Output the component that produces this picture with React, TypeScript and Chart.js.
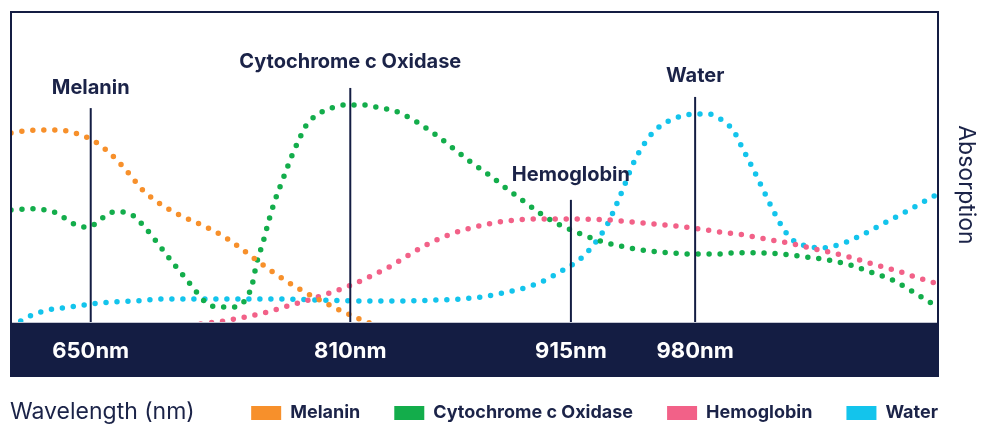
import React, { useEffect, useRef } from "react";
import { Chart, registerables } from "chart.js";

Chart.register(...registerables);

// ---- Data (x = relative position along the wavelength axis, 0–100; y = relative absorption, 0–100)
const seriesNames = ["Melanin", "Cytochrome c Oxidase", "Hemoglobin", "Water"];
const seriesColors = ["#F7902B", "#13AD4B", "#F26188", "#13C4EC"];

const melaninX = [0, 2.5, 5.0, 7.3, 9.3, 11.0, 12.5, 14.2, 16.3, 18.4, 20.8, 22.9, 24.9, 26.9, 28.7, 30.9, 33.1, 35.4, 37.6, 39.8];
const melaninY = [61.0, 61.9, 61.9, 60.6, 57.7, 53.5, 48.7, 42.6, 37.7, 34.2, 31.0, 27.7, 23.5, 19.0, 15.2, 11.0, 7.4, 3.9, 1.0, -1.6];

const cytoX = [0, 2.5, 3.7, 4.9, 5.8, 7.0, 8.3, 9.5, 10.6, 11.8, 13.1, 14.3, 15.8, 17.3, 18.8, 20.2, 21.1, 22.4, 23.8, 25.2, 26.0, 26.5, 27.2, 27.8, 28.5, 29.3, 30.2, 31.0, 32.0, 32.9, 33.9, 35.0, 36.0, 37.1, 38.2, 39.3, 40.5, 41.4, 42.6, 43.8, 44.9, 46.0, 47.8, 49.6, 51.6, 53.4, 55.1, 57.2, 59.2, 61.5, 63.9, 66.2, 68.8, 71.2, 73.5, 75.9, 78.3, 80.8, 83.1, 85.7, 88.1, 90.5, 93.0, 95.1, 97.0, 98.9, 100];
const cytoY = [36.1, 36.5, 36.1, 35.2, 33.5, 31.3, 30.6, 32.6, 35.2, 35.5, 34.5, 31.0, 25.5, 19.7, 14.2, 9.0, 6.1, 4.8, 4.8, 6.8, 11.9, 19.0, 25.8, 32.6, 39.4, 45.8, 52.9, 58.4, 64.2, 66.5, 68.4, 69.4, 70.0, 70.0, 70.0, 69.4, 68.7, 68.1, 66.5, 64.5, 62.3, 60.0, 55.8, 51.6, 47.4, 43.2, 39.4, 34.8, 31.3, 28.4, 25.8, 24.2, 22.9, 22.3, 21.9, 21.9, 22.3, 22.3, 21.9, 21.0, 20.0, 18.4, 15.8, 13.5, 10.3, 6.8, 4.8];

const hemoX = [19.3, 20.5, 22.9, 25.2, 27.6, 29.9, 32.1, 34.4, 36.7, 38.8, 41.0, 42.9, 45.2, 47.5, 49.6, 52.0, 54.4, 56.9, 59.2, 61.7, 64.5, 66.9, 69.4, 71.7, 74.2, 76.6, 79.0, 81.4, 83.8, 86.2, 88.6, 90.9, 93.3, 95.6, 97.9, 100];
const hemoY = [-1.3, -0.6, 0.3, 1.6, 3.2, 5.2, 7.1, 9.4, 11.9, 14.8, 18.1, 21.6, 25.5, 28.4, 30.3, 31.9, 32.9, 33.2, 33.2, 33.2, 32.9, 32.3, 31.6, 31.0, 30.0, 29.0, 28.1, 26.8, 25.5, 23.9, 22.3, 20.6, 18.4, 16.5, 14.2, 12.3];

const waterX = [0, 1.2, 2.3, 3.5, 4.6, 6.3, 8.6, 11.1, 13.6, 16.1, 19.7, 24.6, 29.6, 33.2, 38.1, 42.5, 46.1, 48.4, 50.8, 53.1, 55.4, 57.4, 59.4, 61.4, 63.0, 64.3, 65.2, 66.1, 67.0, 68.1, 69.5, 71.2, 73.8, 75.2, 76.2, 77.1, 77.9, 78.9, 80.0, 81.1, 82.2, 83.4, 84.2, 85.1, 86.3, 87.5, 88.7, 89.9, 92.0, 94.2, 96.3, 98.6, 100];
const waterY = [-1.3, 0.6, 2.3, 3.5, 4.2, 4.8, 5.8, 6.5, 6.8, 7.4, 7.4, 7.4, 7.4, 7.1, 6.8, 6.8, 7.1, 7.4, 8.1, 9.4, 11.0, 13.2, 16.5, 20.3, 25.5, 31.3, 37.1, 43.5, 50.3, 56.5, 61.9, 65.2, 67.1, 67.1, 66.1, 64.2, 61.9, 56.1, 49.7, 42.9, 36.1, 29.7, 26.8, 25.2, 24.2, 23.9, 24.5, 25.5, 28.4, 31.9, 35.2, 39.0, 41.3];

// Markers (peak indicators)
const markerPositions = [8.6, 36.6, 60.4, 73.8];
const markerTickLabels = ["650nm", "810nm", "915nm", "980nm"];
const markerNames = ["Melanin", "Cytochrome c Oxidase", "Hemoglobin", "Water"];
const markerTops = [69.0, 75.5, 39.4, 72.6];
const markerLabelLevels = [75.5, 83.9, 47.4, 79.4];

const xAxisTitle = "Wavelength (nm)";
const yAxisTitle = "Absorption";
const yTitleLevel = 44.2;

const NAVY = "#141D43";
const TEXT = "#1B2348";
const FONT = "Inter";
const LEGEND_PAD = 34;
const LEGEND_FONT = 18;
const BAND_HEIGHT = 54;

const seriesX = [melaninX, cytoX, hemoX, waterX];
const seriesY = [melaninY, cytoY, hemoY, waterY];

const decor = {
  id: "decor",
  beforeDraw(chart: any) {
    const { ctx, chartArea: a } = chart;
    const ys = chart.scales.y;
    ctx.save();
    // dark axis band
    ctx.fillStyle = NAVY;
    ctx.fillRect(a.left - 1, a.bottom + 1, a.right - a.left + 2, BAND_HEIGHT);
    ctx.fillStyle = "#C3C6D2";
    ctx.fillRect(a.left, a.bottom, a.right - a.left, 1);
    // x title (bottom-left)
    const lg = chart.legend;
    const mid = lg.top + LEGEND_PAD + LEGEND_FONT / 2 - 1;
    ctx.fillStyle = TEXT;
    ctx.font = `400 23px ${FONT}`;
    ctx.textAlign = "left";
    ctx.textBaseline = "middle";
    ctx.fillText(xAxisTitle, 10, mid);
    // y title (right, rotated)
    ctx.translate(chart.width - 20, ys.getPixelForValue(yTitleLevel));
    ctx.rotate(Math.PI / 2);
    ctx.textAlign = "center";
    ctx.fillText(yAxisTitle, 0, 0);
    ctx.restore();
  },
  afterDatasetsDraw(chart: any) {
    const { ctx, chartArea: a } = chart;
    const xs = chart.scales.x;
    const ys = chart.scales.y;
    ctx.save();
    ctx.strokeStyle = NAVY;
    ctx.lineWidth = 2;
    ctx.lineJoin = "miter";
    ctx.beginPath();
    ctx.moveTo(a.left, a.bottom + 1);
    ctx.lineTo(a.left, a.top);
    ctx.lineTo(a.right, a.top);
    ctx.lineTo(a.right, a.bottom + 1);
    ctx.stroke();
    ctx.fillStyle = TEXT;
    ctx.font = `700 20px ${FONT}`;
    ctx.textAlign = "center";
    ctx.textBaseline = "middle";
    markerPositions.forEach((p, i) => {
      const x = xs.getPixelForValue(p);
      ctx.beginPath();
      ctx.moveTo(x, ys.getPixelForValue(markerTops[i]));
      ctx.lineTo(x, a.bottom);
      ctx.stroke();
      ctx.fillText(markerNames[i], x, ys.getPixelForValue(markerLabelLevels[i]));
    });
    ctx.restore();
  },
};

export default function App() {
  const ref = useRef<HTMLCanvasElement>(null);
  useEffect(() => {
    document.body.style.margin = "0";
    const canvas = ref.current!;
    const datasets = seriesNames.map((name, i) => ({
      label: name,
      data: seriesX[i].map((x, j) => ({ x, y: seriesY[i][j] })),
      borderColor: seriesColors[i],
      backgroundColor: seriesColors[i],
      borderWidth: 5.5,
      borderDash: [0, 11],
      borderCapStyle: "round" as const,
      pointRadius: 0,
      pointHoverRadius: 0,
      cubicInterpolationMode: "monotone" as const,
      fill: false,
    }));
    const chart = new Chart(canvas, {
      type: "line",
      data: { datasets },
      options: {
        animation: false,
        responsive: false,
        events: [],
        layout: { padding: { left: 11, top: 12, right: 48 - LEGEND_PAD, bottom: 0 } },
        scales: {
          x: {
            type: "linear",
            min: 0,
            max: 100,
            position: "bottom",
            grid: { display: false, drawTicks: false },
            border: { display: false },
            afterBuildTicks: (s: any) => {
              s.ticks = markerPositions.map((v) => ({ value: v }));
            },
            afterFit: (s: any) => {
              s.height = 48;
            },
            ticks: {
              autoSkip: false,
              maxRotation: 0,
              minRotation: 0,
              padding: 16,
              color: "#FFFFFF",
              font: { family: FONT, size: 22, weight: "bold" },
              callback: (_v: any, i: number) => markerTickLabels[i],
            },
          },
          y: {
            type: "linear",
            min: 0,
            max: 100,
            position: "right",
            grid: { display: false, drawTicks: false },
            border: { display: false },
            ticks: { display: false },
            afterFit: (s: any) => {
              s.width = LEGEND_PAD;
            },
          },
        },
        plugins: {
          tooltip: { enabled: false },
          legend: {
            position: "bottom",
            align: "end",
            maxHeight: 56,
            labels: {
              boxWidth: 30,
              boxHeight: 14,
              padding: LEGEND_PAD,
              color: TEXT,
              font: { family: FONT, size: LEGEND_FONT, weight: "bold" },
              generateLabels: (c: any) =>
                (Chart.defaults.plugins.legend.labels.generateLabels as any)(c).map((l: any) => ({
                  ...l,
                  lineWidth: 0,
                  lineDash: [],
                  fillStyle: seriesColors[l.datasetIndex],
                  strokeStyle: seriesColors[l.datasetIndex],
                })),
            },
          },
        },
      } as any,
      plugins: [decor],
    });
    return () => chart.destroy();
  }, []);
  return (
    <div style={{ width: 986, height: 426 }}>
      <canvas ref={ref} width={986} height={426} style={{ display: "block" }} />
    </div>
  );
}
